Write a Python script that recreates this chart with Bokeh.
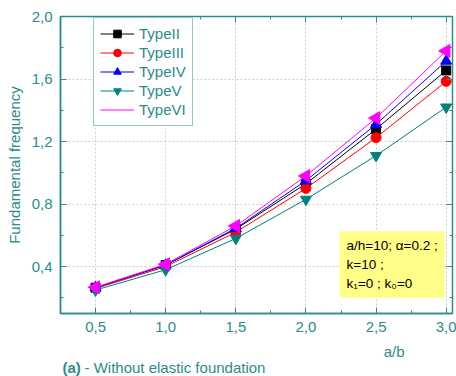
from bokeh.plotting import figure
from bokeh.models import (Range1d, LinearAxis, FixedTicker, Label, Legend,
                          LegendItem, CustomJSTickFormatter, Title)
from bokeh.embed import file_html
from bokeh.resources import INLINE

# Aspect ratio a/b and fundamental frequency for each plate type
ratio = [0.5, 1.0, 1.5, 2.0, 2.5, 3.0]
type_ii = [0.265, 0.410, 0.640, 0.930, 1.280, 1.655]
type_iii = [0.260, 0.400, 0.620, 0.900, 1.225, 1.585]
type_iv = [0.265, 0.410, 0.645, 0.950, 1.310, 1.715]
type_v = [0.250, 0.380, 0.580, 0.830, 1.110, 1.420]
type_vi = [0.268, 0.415, 0.660, 0.980, 1.350, 1.780]

x_ticks = [0.5, 1.0, 1.5, 2.0, 2.5, 3.0]
y_ticks = [0.4, 0.8, 1.2, 1.6, 2.0]
x_minor = [0.25, 0.75, 1.25, 1.75, 2.25, 2.75]
y_minor = [0.2, 0.6, 1.0, 1.4, 1.8]

TEAL = "#2a8c8c"
FONT = "Liberation Sans"

X0, X1, Y0, Y1 = 0.25, 3.045, 0.1, 2.0
FRAME_W, FRAME_H = 392, 297

p = figure(width=456, height=376, output_backend="svg", toolbar_location=None,
           x_range=Range1d(X0, X1), y_range=Range1d(Y0, Y1),
           min_border_left=60, min_border_right=4, min_border_top=16,
           min_border_bottom=63, background_fill_color="white",
           border_fill_color="white")

p.outline_line_color = TEAL
p.outline_line_width = 1.5

comma = CustomJSTickFormatter(code="return tick.toFixed(1).replace('.', ',');")
blank = CustomJSTickFormatter(code="return '';")

for ax in (p.xaxis[0], p.yaxis[0]):
    ax.axis_line_color = TEAL
    ax.axis_line_width = 1.5
    ax.major_tick_line_color = TEAL
    ax.minor_tick_line_color = TEAL
    ax.major_tick_in = 6
    ax.major_tick_out = 0
    ax.minor_tick_in = 3
    ax.minor_tick_out = 0
    ax.major_label_text_color = TEAL
    ax.major_label_text_font = FONT
    ax.major_label_text_font_size = "15px"
    ax.formatter = comma

p.xaxis.ticker = FixedTicker(ticks=x_ticks, minor_ticks=x_minor)
p.yaxis.ticker = FixedTicker(ticks=y_ticks, minor_ticks=y_minor)
p.xaxis.major_label_standoff = 8
p.yaxis.major_label_standoff = 8

p.yaxis.axis_label = "Fundamental frequency"
p.yaxis.axis_label_text_color = TEAL
p.yaxis.axis_label_text_font = FONT
p.yaxis.axis_label_text_font_size = "15px"
p.yaxis.axis_label_text_font_style = "normal"
p.yaxis.axis_label_standoff = 6

# Mirror ticks on the top and right edges, without labels
top = LinearAxis(ticker=FixedTicker(ticks=x_ticks, minor_ticks=x_minor))
right = LinearAxis(ticker=FixedTicker(ticks=y_ticks, minor_ticks=y_minor))
for ax in (top, right):
    ax.axis_line_color = TEAL
    ax.major_tick_line_color = TEAL
    ax.minor_tick_line_color = TEAL
    ax.major_tick_in = 6
    ax.major_tick_out = 0
    ax.minor_tick_in = 3
    ax.minor_tick_out = 0
    ax.formatter = blank
    ax.major_label_text_font_size = "1px"
    ax.major_label_standoff = 0
p.add_layout(top, "above")
p.add_layout(right, "right")

p.xgrid.grid_line_color = "#cccccc"
p.ygrid.grid_line_color = "#cccccc"
p.xgrid.grid_line_dash = "2 2"
p.ygrid.grid_line_dash = "2 2"

series = [
    ("TypeII", type_ii, "black", "square", 9),
    ("TypeIII", type_iii, "red", "circle", 10),
    ("TypeIV", type_iv, "blue", "triangle", 11),
    ("TypeV", type_v, "#008080", "inverted_triangle", 11),
]

items = []
for name, ys, color, marker, size in series:
    ln = p.line(ratio, ys, line_color=color, line_width=1)
    sc = p.scatter(x=ratio, y=ys, marker=marker, size=size,
                   fill_color=color, line_color=color)
    items.append(LegendItem(label=name, renderers=[ln, sc]))

# TypeVI: left-pointing triangles, sized in pixels around each data point
px_x = (X1 - X0) / FRAME_W
px_y = (Y1 - Y0) / FRAME_H
r = 7.5
tri_xs = [[xv - r * px_x, xv + 0.5 * r * px_x, xv + 0.5 * r * px_x] for xv in ratio]
tri_ys = [[yv, yv + 0.866 * r * px_y, yv - 0.866 * r * px_y] for yv in type_vi]
ln6 = p.line(ratio, type_vi, line_color="magenta", line_width=1)
p.patches(tri_xs, tri_ys, fill_color="magenta", line_color="magenta")
items.append(LegendItem(label="TypeVI", renderers=[ln6]))

legend = Legend(items=items, location=(33, 187))
legend.border_line_color = TEAL
legend.border_line_width = 1.5
legend.background_fill_color = "white"
legend.background_fill_alpha = 1
legend.label_text_color = TEAL
legend.label_text_font = FONT
legend.label_text_font_size = "15px"
legend.glyph_width = 34
legend.glyph_height = 19
legend.label_height = 19
legend.label_standoff = 5
legend.spacing = 0
legend.padding = 6
legend.margin = 0
p.add_layout(legend)

# Parameter note
note = Label(x=2.24, y=0.626, text="a/h=10; \u03b1=0.2 ;\nk=10 ;\nk\u2081=0 ; k\u2080=0",
             text_font=FONT, text_font_size="13.5px", text_color="black",
             text_align="left", text_baseline="top", text_line_height=1.25,
             background_fill_color="#ffff88", padding=7)
p.add_layout(note)

# Axis title for a/b and panel caption below the frame (caption parts share one row)
t_ab = Title(text="a/b", align="right", offset=48, standoff=12,
             text_font=FONT, text_font_size="15px", text_color=TEAL,
             text_font_style="normal")
t_a = Title(text="(a)", align="left", offset=2, standoff=-20,
            text_font=FONT, text_font_size="15px", text_color=TEAL,
            text_font_style="bold")
t_cap = Title(text="- Without elastic foundation", align="left", offset=24,
              standoff=-20, text_font=FONT, text_font_size="15px",
              text_color=TEAL, text_font_style="normal")
p.add_layout(t_ab, "below")
p.add_layout(t_a, "below")
p.add_layout(t_cap, "below")

open("out.html", "w").write(file_html(p, INLINE))
